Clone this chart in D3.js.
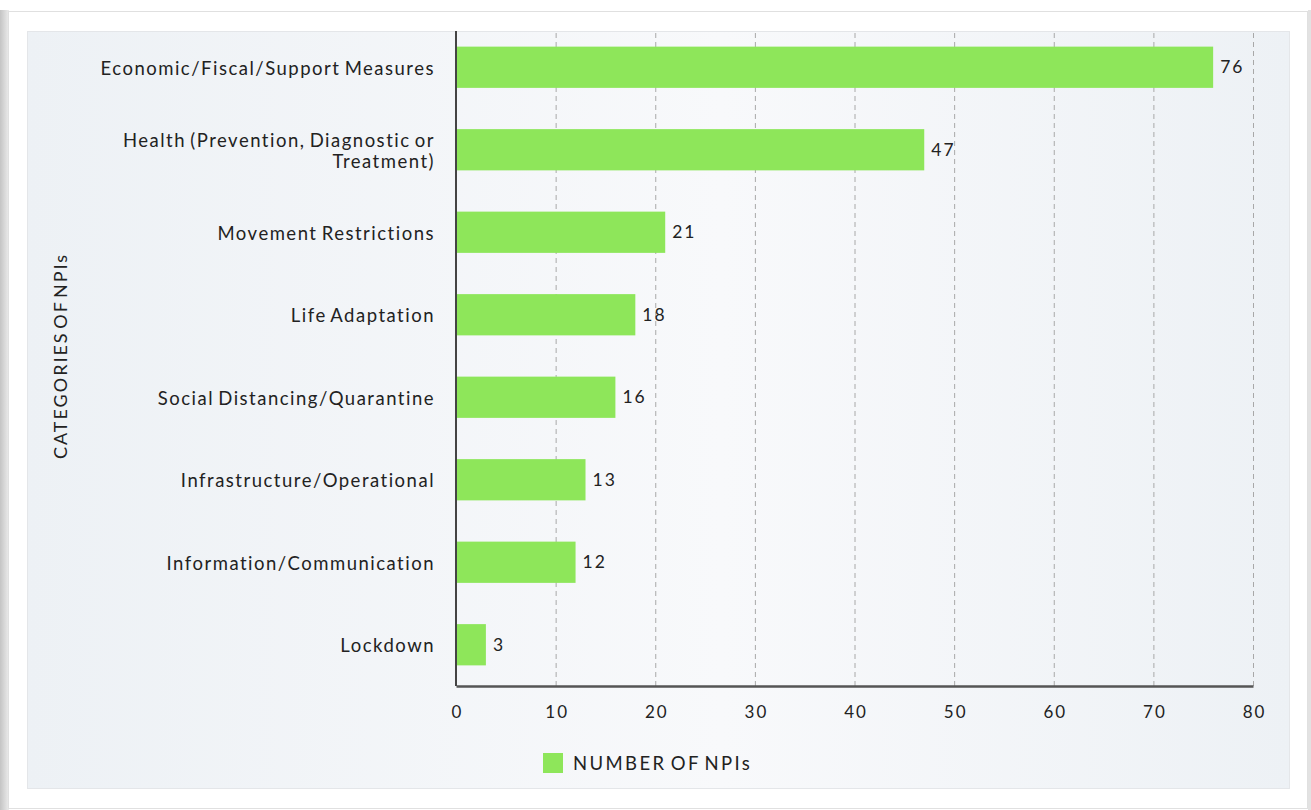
<!DOCTYPE html>
<html>
<head>
<meta charset="utf-8">
<script src="https://cdn.jsdelivr.net/npm/d3@7"></script>
<style>
  body { margin: 0; background: #fff; }
  svg { display: block; }
  text { font-family: Lato, "Open Sans", sans-serif; fill: #222; }
</style>
</head>
<body>
<script>
// data
var categories = [
  "Economic/Fiscal/Support Measures",
  "Health (Prevention, Diagnostic or|Treatment)",
  "Movement Restrictions",
  "Life Adaptation",
  "Social Distancing/Quarantine",
  "Infrastructure/Operational",
  "Information/Communication",
  "Lockdown"
];
var values = [76, 47, 21, 18, 16, 13, 12, 3];
var xTicks = [0, 10, 20, 30, 40, 50, 60, 70, 80];
var seriesName = "NUMBER OF NPIs";
var yTitle = "CATEGORIES OF NPIs";

var data = categories.map(function(c, i) { return {cat: c, value: values[i]}; });

var W = 1311, H = 810;
var margin = {left: 456, right: 58, top: 26, bottom: 124};
var width = W - margin.left - margin.right;
var height = H - margin.top - margin.bottom;

var svg = d3.select("body").append("svg")
    .attr("width", W)
    .attr("height", H);

var defs = svg.append("defs");
var grad = defs.append("linearGradient").attr("id", "bg").attr("x1", 0).attr("x2", 1).attr("y1", 0).attr("y2", 0);
grad.append("stop").attr("offset", "0").attr("stop-color", "#edf1f5");
grad.append("stop").attr("offset", "0.55").attr("stop-color", "#f8f9fb");
grad.append("stop").attr("offset", "1").attr("stop-color", "#edf1f5");

var shadow = defs.append("linearGradient").attr("id", "sh").attr("x1", 0).attr("x2", 1);
shadow.append("stop").attr("offset", "0").attr("stop-color", "#c4c4c4");
shadow.append("stop").attr("offset", "1").attr("stop-color", "#ececec");

// card with left shadow
svg.append("rect").attr("x", 0).attr("y", 10).attr("width", 9).attr("height", 800).attr("fill", "url(#sh)");
svg.append("rect").attr("x", 1308).attr("y", 10).attr("width", 3).attr("height", 800).attr("fill", "#e2e2e2");
svg.append("rect")
    .attr("x", 8.5).attr("y", 11.5).attr("width", 1299).attr("height", 797)
    .attr("fill", "#fff").attr("stroke", "#e0e0e0");
svg.append("rect")
    .attr("x", 27.5).attr("y", 31.5).attr("width", 1262).attr("height", 757)
    .attr("fill", "url(#bg)").attr("stroke", "#e4e6e9");

var g = svg.append("g").attr("transform", "translate(" + margin.left + "," + margin.top + ")");

var x = d3.scaleLinear().domain([0, 80]).range([0, 797]);
var y = d3.scaleBand().domain(categories).range([0, height]).paddingInner(0.5).paddingOuter(0.25);

// dashed grid
g.append("g")
    .attr("class", "grid")
    .attr("transform", "translate(0," + height + ")")
    .call(d3.axisBottom(x).tickValues(xTicks.slice(1)).tickSize(-(height - 5)).tickFormat(""))
    .call(function(s) {
        s.select(".domain").remove();
        s.selectAll("line").attr("stroke", "#a8a8a8").attr("stroke-dasharray", "5,4");
    });

// bars
g.selectAll(".bar")
    .data(data)
    .enter().append("rect")
    .attr("class", "bar")
    .attr("x", 0)
    .attr("y", function(d) { return y(d.cat); })
    .attr("width", function(d) { return x(d.value); })
    .attr("height", y.bandwidth())
    .attr("fill", "#8ee65a");

// value labels
g.selectAll(".val")
    .data(data)
    .enter().append("text")
    .attr("class", "val")
    .attr("x", function(d) { return x(d.value) + 7; })
    .attr("y", function(d) { return y(d.cat) + y.bandwidth() / 2; })
    .attr("dy", "0.35em")
    .style("font-size", "17.5px")
    .style("letter-spacing", "2px")
    .text(function(d) { return d.value; });

// x axis
g.append("g")
    .attr("transform", "translate(0," + height + ")")
    .call(d3.axisBottom(x).tickValues(xTicks).tickSize(0).tickPadding(20))
    .call(function(s) {
        s.select(".domain").attr("stroke", "#555").attr("stroke-width", 2.5);
        s.selectAll("text")
            .attr("dx", "1px")
            .style("font-size", "17px")
            .style("letter-spacing", "2px")
            .style("font-family", "Lato, sans-serif")
            .attr("fill", "#222");
    });

// y axis
var yAx = g.append("g")
    .call(d3.axisLeft(y).tickSize(0).tickPadding(22).tickFormat(""));
yAx.select(".domain").attr("stroke", "#444").attr("stroke-width", 2).attr("d", "M0," + (31 - margin.top) + "V" + height);

yAx.selectAll(".tick").each(function(d) {
    var lines = d.split("|");
    var t = d3.select(this).append("text")
        .attr("text-anchor", "end")
        .style("font-size", "18.5px")
        .style("letter-spacing", "1.5px")
        .style("word-spacing", "-2px")
        .attr("fill", "#222");
    lines.forEach(function(l, i) {
        t.append("tspan")
            .attr("x", -21)
            .attr("y", (i - (lines.length - 1) / 2) * 21 + 1)
            .attr("dy", "0.35em")
            .text(l);
    });
});

// y title
svg.append("text")
    .attr("transform", "translate(67,356) rotate(-90)")
    .attr("text-anchor", "middle")
    .style("font-size", "18px")
    .style("letter-spacing", "2px")
    .style("word-spacing", "-4px")
    .text(yTitle);

// legend
svg.append("rect")
    .attr("x", 543).attr("y", 753).attr("width", 20).attr("height", 20)
    .attr("fill", "#8ee65a");
svg.append("text")
    .attr("x", 573).attr("y", 764)
    .attr("dy", "0.35em")
    .style("font-size", "18.5px")
    .style("letter-spacing", "2.4px")
    .style("word-spacing", "-3px")
    .text(seriesName);
</script>
</body>
</html>
